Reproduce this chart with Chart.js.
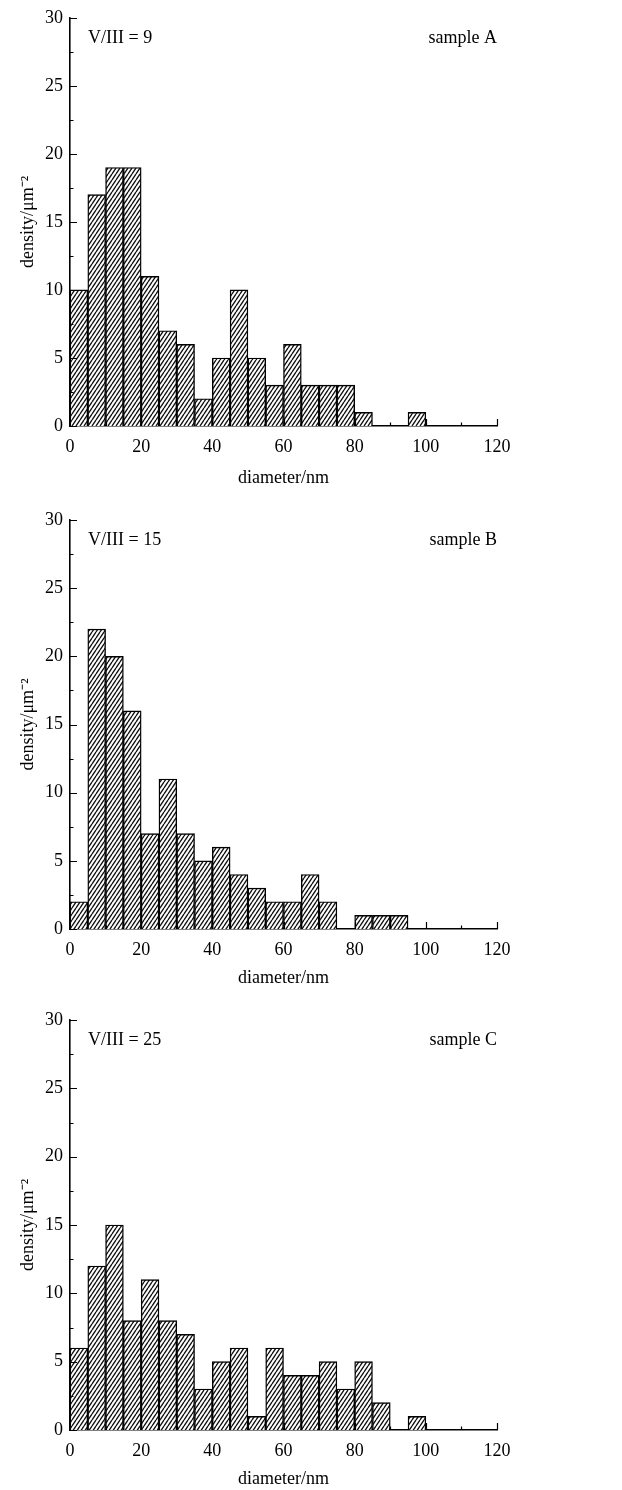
<!DOCTYPE html>
<html>
<head>
<meta charset="utf-8">
<script src="https://cdn.jsdelivr.net/npm/chart.js@4/dist/chart.umd.min.js"></script>
<style>
  html, body { margin: 0; padding: 0; background: #fff; }
  body { width: 622px; height: 1490px; position: relative; overflow: hidden; }
  canvas { position: absolute; left: 0; }
</style>
</head>
<body>
<canvas id="chartA" width="622" height="490" style="top:0px"></canvas>
<canvas id="chartB" width="622" height="490" style="top:500px"></canvas>
<canvas id="chartC" width="622" height="490" style="top:1000px"></canvas>
<script>
// bin centres (diameter, nm), 5 nm wide bins from 0 to 120
const binCenters = [2.5, 7.5, 12.5, 17.5, 22.5, 27.5, 32.5, 37.5, 42.5, 47.5, 52.5, 57.5,
  62.5, 67.5, 72.5, 77.5, 82.5, 87.5, 92.5, 97.5, 102.5, 107.5, 112.5, 117.5];

// density per bin (µm^-2)
const densityA = [10, 17, 19, 19, 11, 7, 6, 2, 5, 10, 5, 3, 6, 3, 3, 3, 1, 0, 0, 1, 0, 0, 0, 0];
const densityB = [2, 22, 20, 16, 7, 11, 7, 5, 6, 4, 3, 2, 2, 4, 2, 0, 1, 1, 1, 0, 0, 0, 0, 0];
const densityC = [6, 12, 15, 8, 11, 8, 7, 3, 5, 6, 1, 6, 4, 4, 5, 3, 5, 2, 0, 1, 0, 0, 0, 0];

const ratioLabels = ["V/III = 9", "V/III = 15", "V/III = 25"];
const sampleLabels = ["sample A", "sample B", "sample C"];

const xTickValues = [0, 20, 40, 60, 80, 100, 120];
const yTickValues = [0, 5, 10, 15, 20, 25, 30];

const FONT = "'Liberation Serif', 'Times New Roman', serif";
const FONT_SIZE = 18;

// plot area top/bottom inside each 490px canvas
const panelLayout = [
  { top: 15, bottom: 426, titleY: 478 },
  { top: 20, bottom: 429, titleY: 478 },
  { top: 20, bottom: 430, titleY: 479 },
];

// diagonal hatch fill like the printed figure
const makeHatch = () => {
  const w = 4, h = 6;
  const c = document.createElement("canvas");
  c.width = w;
  c.height = h;
  const g = c.getContext("2d");
  g.fillStyle = "#fff";
  g.fillRect(0, 0, w, h);
  g.strokeStyle = "#111";
  g.lineWidth = 1.35;
  g.beginPath();
  for (let k = -1; k <= 1; k++) {
    g.moveTo(k * w, h);
    g.lineTo(k * w + w, 0);
  }
  g.stroke();
  return g.createPattern(c, "repeat");
};

// inward tick marks, major and minor
const innerTicks = {
  id: "innerTicks",
  afterDraw(chart) {
    const { ctx, chartArea, scales } = chart;
    ctx.save();
    ctx.strokeStyle = "#000";
    ctx.lineWidth = 1.2;
    ctx.beginPath();
    for (let v = 0; v <= 30; v += 2.5) {
      const y = Math.round(scales.y.getPixelForValue(v)) + 0.5;
      const len = v % 5 === 0 ? 7 : 3.5;
      ctx.moveTo(chartArea.left, y);
      ctx.lineTo(chartArea.left + len, y);
    }
    for (let v = 10; v <= 120; v += 10) {
      const x = Math.round(scales.x.getPixelForValue(v)) + 0.5;
      const len = v % 20 === 0 ? 7 : 3.5;
      ctx.moveTo(x, chartArea.bottom);
      ctx.lineTo(x, chartArea.bottom - len);
    }
    ctx.stroke();
    ctx.restore();
  },
};

// "V/III = n" and "sample X" labels inside the plot
const cornerText = {
  id: "cornerText",
  afterDraw(chart, args, opts) {
    const { ctx, chartArea } = chart;
    ctx.save();
    ctx.fillStyle = "#000";
    ctx.font = FONT_SIZE + "px " + FONT;
    ctx.textBaseline = "middle";
    const y = chartArea.top + 20.5;
    ctx.textAlign = "left";
    ctx.fillText(opts.left, chartArea.left + 18, y);
    ctx.textAlign = "right";
    ctx.fillText(opts.right, chartArea.right, y);
    ctx.restore();
  },
};

const makePanel = (id, values, idx) => {
  const lay = panelLayout[idx];
  const canvas = document.getElementById(id);
  const lh = FONT_SIZE * 1.2;
  return new Chart(canvas.getContext("2d"), {
    type: "bar",
    data: {
      datasets: [
        {
          data: binCenters.map((x, i) => ({ x, y: values[i] })),
          backgroundColor: makeHatch(),
          borderColor: "#000",
          borderWidth: 1.4,
          barPercentage: 1,
          categoryPercentage: 1,
        },
      ],
    },
    options: {
      responsive: false,
      animation: false,
      events: [],
      layout: {
        padding: { top: lay.top, right: 125, left: 0, bottom: 0 },
      },
      scales: {
        x: {
          type: "linear",
          min: 0,
          max: 120,
          offset: false,
          grid: { display: false, drawTicks: false, offset: false },
          border: { display: true, color: "#000", width: 1.6 },
          afterBuildTicks: (scale) => {
            scale.ticks = xTickValues.map((value) => ({ value }));
          },
          afterFit: (scale) => {
            scale.height = 490 - lay.bottom;
          },
          ticks: {
            color: "#000",
            padding: 10,
            maxRotation: 0,
            font: { family: FONT, size: FONT_SIZE },
          },
          title: {
            display: true,
            text: "diameter/nm",
            color: "#000",
            font: { family: FONT, size: FONT_SIZE },
            padding: { top: 0, bottom: Math.max(0, 490 - lh / 2 - lay.titleY) },
          },
        },
        y: {
          min: 0,
          max: 30,
          grid: { display: false, drawTicks: false },
          border: { display: true, color: "#000", width: 1.6 },
          afterBuildTicks: (scale) => {
            scale.ticks = yTickValues.map((value) => ({ value }));
          },
          afterFit: (scale) => {
            scale.width = 70;
          },
          ticks: {
            color: "#000",
            padding: 7,
            font: { family: FONT, size: FONT_SIZE },
          },
          title: {
            display: true,
            text: "density/\u03bcm\u207b\u00b2",
            color: "#000",
            font: { family: FONT, size: FONT_SIZE },
            padding: { top: 17, bottom: 0 },
          },
        },
      },
      plugins: {
        legend: { display: false },
        tooltip: { enabled: false },
        cornerText: { left: ratioLabels[idx], right: sampleLabels[idx] },
      },
    },
    plugins: [innerTicks, cornerText],
  });
};

makePanel("chartA", densityA, 0);
makePanel("chartB", densityB, 1);
makePanel("chartC", densityC, 2);
</script>
</body>
</html>
